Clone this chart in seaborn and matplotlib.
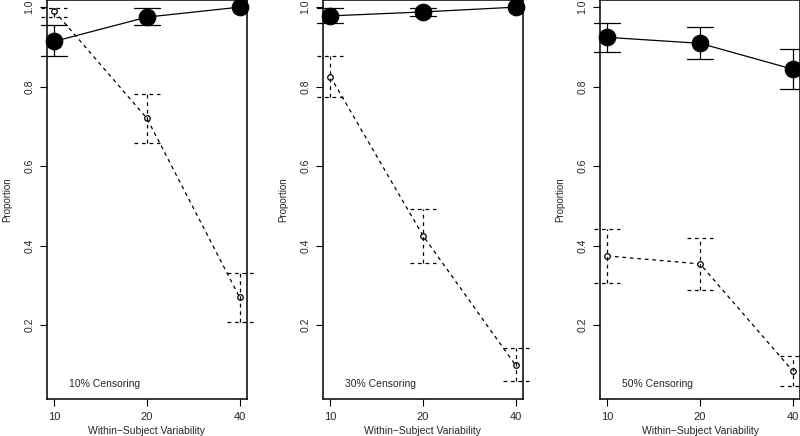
import numpy as np
import pandas as pd
import seaborn as sns
import matplotlib.pyplot as plt

# data
variab = [10, 20, 40]
censoring = ['10% Censoring', '30% Censoring', '50% Censoring']

solid_mean = [[0.914, 0.975, 1.000], [0.978, 0.988, 1.000], [0.924, 0.909, 0.844]]
solid_lo = [[0.876, 0.954, 1.000], [0.960, 0.977, 1.000], [0.888, 0.870, 0.794]]
solid_hi = [[0.954, 0.997, 1.000], [0.999, 0.997, 1.000], [0.961, 0.949, 0.894]]

dash_mean = [[0.990, 0.720, 0.270], [0.825, 0.425, 0.099], [0.374, 0.354, 0.085]]
dash_lo = [[0.976, 0.658, 0.208], [0.773, 0.357, 0.059], [0.307, 0.288, 0.047]]
dash_hi = [[0.999, 0.782, 0.332], [0.877, 0.493, 0.143], [0.441, 0.420, 0.123]]

sns.set_style("ticks")
plt.rcParams['font.family'] = ['Liberation Sans', 'DejaVu Sans']

fig = plt.figure(figsize=(8, 4.36), dpi=100)
lefts = [47/800, 323/800, 600/800]
pos = np.arange(1, len(variab) + 1)


def err_bars(ax, lo, hi, ls):
    # vertical bar plus caps, skipped when there is no spread
    for p, a, b in zip(pos, lo, hi):
        if b - a <= 0:
            continue
        ax.plot([p, p], [a, b], color='black', lw=0.9, ls=ls, clip_on=False)
        for v in (a, b):
            ax.plot([p - 0.14, p + 0.14], [v, v], color='black', lw=0.9, ls=ls, clip_on=False)


for i in range(3):
    ax = fig.add_axes([lefts[i], 1 - 399/436, 200/800, 399/436])
    df_s = pd.DataFrame({'pos': pos, 'val': solid_mean[i]})
    df_d = pd.DataFrame({'pos': pos, 'val': dash_mean[i]})

    sns.lineplot(data=df_s, x='pos', y='val', ax=ax, color='black', lw=0.9,
                 marker='o', markersize=12, markerfacecolor='black',
                 markeredgecolor='black', clip_on=False)
    sns.lineplot(data=df_d, x='pos', y='val', ax=ax, color='black', lw=0.9,
                 marker='o', markersize=4, markerfacecolor='white',
                 markeredgecolor='black', markeredgewidth=0.9, clip_on=False)
    ax.lines[1].set_linestyle((0, (3, 3)))
    err_bars(ax, solid_lo[i], solid_hi[i], '-')
    err_bars(ax, dash_lo[i], dash_hi[i], (0, (3, 3)))

    ax.set_xlim(0.92, 3.08)
    ax.set_ylim(0.014, 1.018)
    ax.set_xticks(pos)
    ax.set_xticklabels([str(v) for v in variab], fontsize=8)
    ax.set_yticks([0.2, 0.4, 0.6, 0.8, 1.0])
    ax.set_yticklabels(['0.2', '0.4', '0.6', '0.8', '1.0'], fontsize=7.5,
                       rotation=90, va='center')
    ax.tick_params(length=5, width=0.8, color='black', pad=4)
    for s in ax.spines.values():
        s.set_linewidth(1.1)
        s.set_color('black')
    ax.set_xlabel('Within\u2212Subject Variability', fontsize=7.5, labelpad=3)
    ax.set_ylabel('Proportion', fontsize=7, labelpad=9)
    ax.text(1.16, 0.052, censoring[i], fontsize=7.5, ha='left', va='center')

fig.savefig('out.png', dpi=100)
